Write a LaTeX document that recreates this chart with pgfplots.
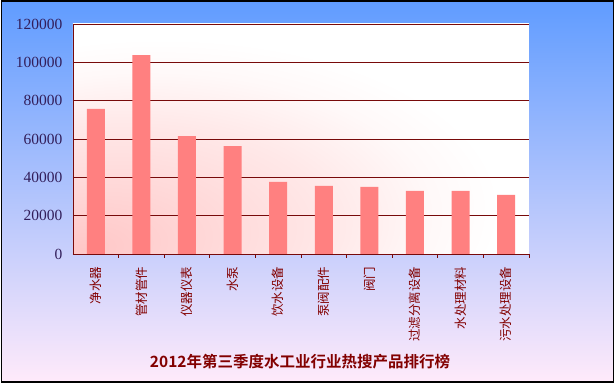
\documentclass[border=0pt]{standalone}
\usepackage{pgfplots}
\pgfplotsset{compat=1.18}
\usepackage{fontspec}
\setmainfont{Liberation Serif}
\newfontfamily\cjk{Noto Sans CJK SC}
\newfontfamily\cjkb{Noto Sans CJK SC Bold}
\definecolor{bgtop}{RGB}{96,156,255}
\definecolor{bgmid}{RGB}{170,200,242}
\definecolor{bgbot}{RGB}{255,234,250}
\definecolor{barc}{RGB}{255,128,128}
\definecolor{gridc}{RGB}{120,10,10}
\definecolor{labc}{RGB}{130,0,0}
\definecolor{numc}{RGB}{50,30,90}
\pgfdeclareradialshading{plotbg}{\pgfpoint{-24bp}{-24bp}}{%
  rgb(0bp)=(1,0.78,0.78);
  rgb(10bp)=(1,0.84,0.84);
  rgb(22bp)=(1,0.91,0.91);
  rgb(31bp)=(1,0.975,0.975);
  rgb(37bp)=(1,1,1);
  rgb(100bp)=(1,1,1)}
\begin{document}
\begin{tikzpicture}
\fill[white] (0pt,0pt) rectangle (616pt,385pt);
\shade[top color=bgtop, middle color=bgmid, bottom color=bgbot] (1.5pt,3pt) rectangle (613.5pt,384pt);
\draw[black, line width=1.5pt] (1.5pt,3pt) rectangle (613.5pt,384pt);
\begin{axis}[
  at={(73pt,131pt)}, anchor=south west,
  width=456pt, height=230pt, scale only axis,
  xmin=-0.5, xmax=9.5, ymin=0, ymax=120000,
  axis lines*=left,
  axis line style={gridc, line width=0.8pt},
  axis background/.style={shading=plotbg},
  ytick={0,20000,...,120000},
  ymajorgrids, grid style={gridc, line width=0.8pt},
  major y tick style={draw=none},
  xtick={0,...,9},
  major x tick style={draw=none},
  minor xtick={0.5,1.5,...,9.5},
  minor x tick style={gridc, line width=0.8pt},
  minor tick length=4pt,
  tick align=inside,
  xticklabels={{\cjk 净水器},{\cjk 管材管件},{\cjk 仪器仪表},{\cjk 水泵},{\cjk 饮水设备},{\cjk 泵阀配件},{\cjk 阀门},{\cjk 过滤分离设备},{\cjk 水处理材料},{\cjk 污水处理设备}},
  xticklabel style={rotate=90, anchor=east, font=\fontsize{12.5}{14}\selectfont, text=labc, xshift=-5pt},
  yticklabel style={font=\fontsize{15.5}{17}\selectfont, text=numc, xshift=-7pt},
  /pgf/number format/assume math mode=true,
  scaled y ticks=false,
  yticklabel={\pgfmathprintnumber[fixed,use comma=false,1000 sep={}]{\tick}},
  ybar, bar width=18pt,
]
\addplot[fill=barc, draw=none] coordinates {
(0,75700) (1,103800) (2,61500) (3,56300) (4,37600) (5,35500) (6,35000) (7,32900) (8,32900) (9,30800)};
\end{axis}
\node[text=labc, font=\cjkb\fontsize{15.5}{17}\selectfont] at (300pt,23pt) {2012年第三季度水工业行业热搜产品排行榜};
\end{tikzpicture}
\end{document}
